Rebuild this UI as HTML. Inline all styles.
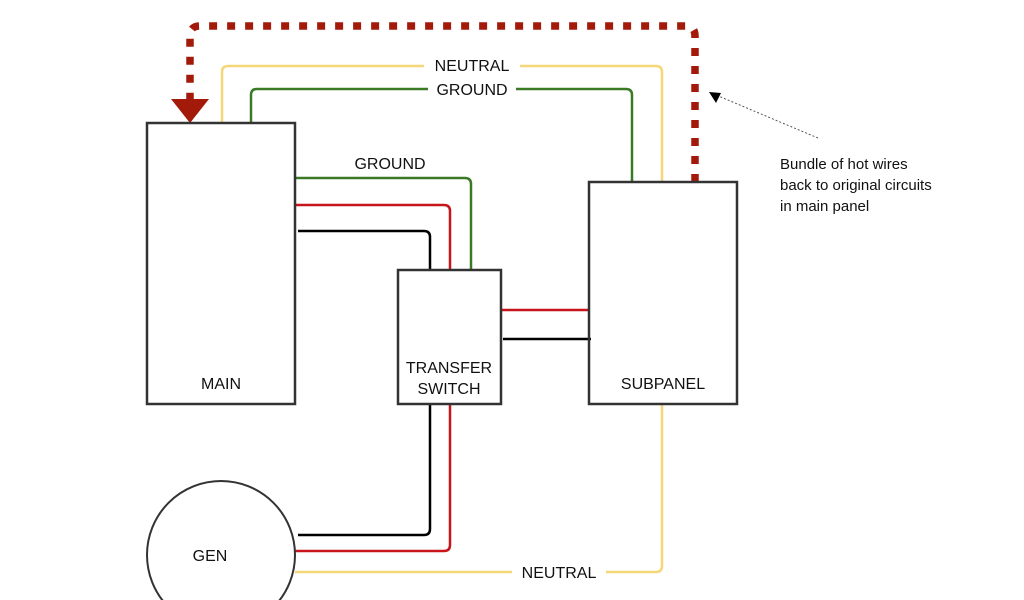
<!DOCTYPE html>
<html><head><style>body{margin:0;background:#fff}svg{display:block}text{font-family:"Liberation Sans",sans-serif;font-size:16px;fill:#111}</style></head><body>
<svg width="1024" height="600" viewBox="0 0 1024 600">
<g fill="none" stroke-width="2.5">
<path d="M222 123 V72 Q222 66 228 66 H656 Q662 66 662 72 V182" stroke="#f5d77a"/>
<path d="M251 123 V95 Q251 89 257 89 H626 Q632 89 632 95 V182" stroke="#3a7a24"/>
<path d="M295 178 H465 Q471 178 471 184 V270" stroke="#3a7a24"/>
<path d="M295 205 H444 Q450 205 450 211 V270" stroke="#c8141b"/>
<path d="M298 231 H424 Q430 231 430 237 V270" stroke="#000"/>
<path d="M501 310 H589" stroke="#c8141b"/>
<path d="M503 339 H591" stroke="#000"/>
<path d="M430 404 V529 Q430 535 424 535 H298" stroke="#000"/>
<path d="M450 404 V545 Q450 551 444 551 H295" stroke="#c8141b"/>
<path d="M662 404 V566 Q662 572 656 572 H295" stroke="#f5d77a"/>
<path d="M695 182 V36 Q695 26 685 26 H200 Q190 26 190 36 V100" stroke="#a31a0a" stroke-width="7.5" stroke-dasharray="8 10"/>
<path d="M818 138 L716 95" stroke="#555" stroke-width="1" stroke-dasharray="2 2"/>
</g>
<polygon points="171,99 209,99 190,123" fill="#a31a0a"/>
<polygon points="709,92 721,93 716,103" fill="#000"/>
<rect x="147" y="123" width="148" height="281" fill="none" stroke="#333" stroke-width="2.5"/>
<rect x="398" y="270" width="103" height="134" fill="none" stroke="#333" stroke-width="2.5"/>
<rect x="589" y="182" width="148" height="222" fill="none" stroke="#333" stroke-width="2.5"/>
<circle cx="221" cy="555" r="74" fill="#fff" stroke="#333" stroke-width="2"/>
<g text-anchor="middle">
<rect x="424" y="56" width="96" height="18" fill="#fff"/><text x="472" y="71">NEUTRAL</text>
<rect x="428" y="80" width="88" height="18" fill="#fff"/><text x="472" y="95">GROUND</text>
<text x="390" y="169">GROUND</text>
<text x="221" y="389">MAIN</text>
<text x="449" y="373">TRANSFER</text>
<text x="449" y="394">SWITCH</text>
<text x="663" y="389">SUBPANEL</text>
<text x="210" y="561">GEN</text>
<rect x="512" y="563" width="94" height="18" fill="#fff"/><text x="559" y="578">NEUTRAL</text>
</g>
<text x="780" y="169" style="font-size:15px">Bundle of hot wires</text>
<text x="780" y="190" style="font-size:15px">back to original circuits</text>
<text x="780" y="211" style="font-size:15px">in main panel</text>
</svg>
</body></html>
